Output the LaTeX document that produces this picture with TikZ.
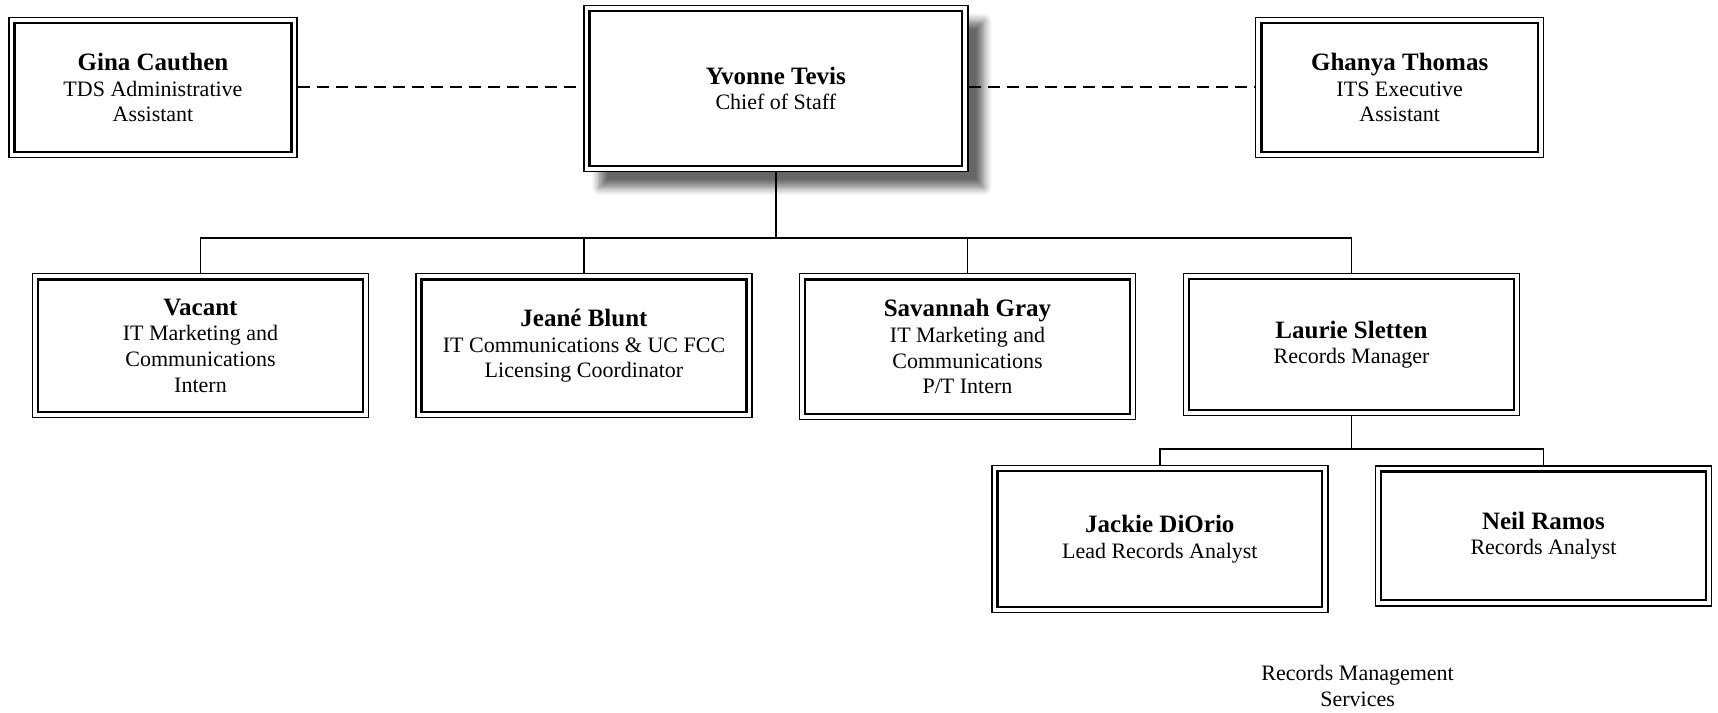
\documentclass[tikz,border=0pt]{standalone}
\usepackage{fontspec}
\setmainfont{Liberation Serif}
\usetikzlibrary{shadows.blur}
\newcommand{\pname}[1]{{\fontsize{12.5}{13.4}\selectfont\bfseries #1}}
\tikzset{
  orgbox/.style={draw, line width=0.7pt, fill=white, align=center,
    font=\fontsize{11}{12.85}\selectfont,
    minimum width=168pt, minimum height=72pt, inner sep=2pt,
    path picture={\draw[line width=1.2pt]
      ([shift={(2.8pt,-2.8pt)}]path picture bounding box.north west) rectangle
      ([shift={(-2.8pt,2.8pt)}]path picture bounding box.south east);}},
  assist/.style={orgbox, minimum width=144pt, minimum height=70pt},
  chief/.style={orgbox, minimum width=192pt, minimum height=83pt,
    blur shadow={shadow xshift=8pt, shadow yshift=-8pt, shadow blur radius=4pt,
      shadow blur steps=8, shadow opacity=60}},
  solidlink/.style={line width=0.8pt},
  trunk/.style={line width=1.1pt},
  dashlink/.style={line width=1pt, dash pattern=on 6pt off 3.5pt},
  caption/.style={align=center, font=\fontsize{11}{12.85}\selectfont}
}
\begin{document}
\begin{tikzpicture}[x=0.5pt, y=-0.5pt]
\useasboundingbox (0,0) rectangle (1718,712);
\node[chief] (yv) at (775.8,88.3) {\pname{Yvonne Tevis}\\Chief of Staff};
\node[assist] (gina) at (153,87.6) {\pname{Gina Cauthen}\\TDS Administrative\\Assistant};
\node[assist] (gha) at (1399.7,87.6) {\pname{Ghanya Thomas}\\ITS Executive\\Assistant};
\node[orgbox] (vac) at (200.5,345.7) {\pname{Vacant}\\IT Marketing and\\Communications\\Intern};
\node[orgbox] (jea) at (584,345.7) {\pname{Jeané Blunt}\\IT Communications \& UC FCC\\Licensing Coordinator};
\node[orgbox, minimum height=73pt] (sav) at (967.5,346.7) {\pname{Savannah Gray}\\IT Marketing and\\Communications\\P/T Intern};
\node[orgbox, minimum height=71pt] (lau) at (1351.5,344.6) {\pname{Laurie Sletten}\\Records Manager};
\node[orgbox, minimum height=73.5pt] (jac) at (1159.8,539.1) {\pname{Jackie DiOrio}\\Lead Records Analyst};
\node[orgbox, minimum height=70pt] (neil) at (1543.5,535.8) {\pname{Neil Ramos}\\Records Analyst};
\node[caption] (cap) at (1357.6,686) {Records Management\\Services};

\coordinate (bus) at (775.8,237.8);
\coordinate (bus2) at (1351.5,449.2);

\draw[dashlink] (gina.east |- 0,86.6) -- (yv.west |- 0,86.6);
\draw[dashlink] (yv.east |- 0,86.6) -- (gha.west |- 0,86.6);

\draw[trunk] (yv.south) -- (bus);
\draw[solidlink] (vac.north) |- (bus);
\draw[solidlink] (jea.north) |- (bus);
\draw[solidlink] (sav.north) |- (bus);
\draw[solidlink] (lau.north) |- (bus);

\draw[solidlink] (lau.south) -- (bus2);
\draw[solidlink] (jac.north) |- (bus2);
\draw[solidlink] (neil.north) |- (bus2);
\end{tikzpicture}
\end{document}
